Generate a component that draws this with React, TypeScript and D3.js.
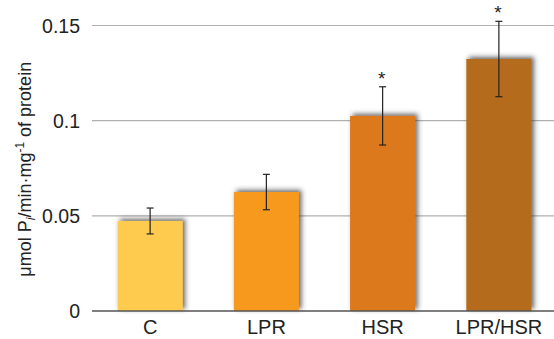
import React from "react";
import * as d3 from "d3";

const categories = ["C", "LPR", "HSR", "LPR/HSR"];
const values = [0.0473, 0.0625, 0.1025, 0.1324];
const errors = [0.0068, 0.0093, 0.0153, 0.0198];
const significant = [false, false, true, true];
const colors = ["#FECB4F", "#F6991E", "#DC791F", "#B46C1A"];
const yTicks = [0, 0.05, 0.1, 0.15];
const yTickLabels = ["0", "0.05", "0.1", "0.15"];

const W = 554;
const H = 339;
const left = 92;
const right = 554;
const y0 = 311;
const yTop = 25.5;

export default function App() {
  const y = d3.scaleLinear().domain([0, 0.15]).range([y0, yTop]);
  const x = d3.scaleBand().domain(categories).range([left, 557]).paddingInner(0.44).paddingOuter(0.22);
  const font = "'Liberation Sans', Arial, sans-serif";

  return (
    <svg width={W} height={H} style={{ position: "absolute", left: 0, top: 0 }} fontFamily={font}>
      <defs>
        <filter id="barShadow" x="-30%" y="-30%" width="160%" height="160%">
          <feDropShadow dx="2.5" dy="-2" stdDeviation="2.6" floodColor="#333" floodOpacity="0.75" />
        </filter>
      </defs>
      <rect width={W} height={H} fill="#fff" />
      {yTicks.slice(1).map((t) => (
        <line key={t} x1={left} x2={right} y1={y(t)} y2={y(t)} stroke="#b0b0b0" strokeWidth={1.2} />
      ))}
      {yTicks.map((t, i) => (
        <text key={t} x={80} y={y(t)} dy="0.36em" textAnchor="end" fontSize={19.5} fill="#222">
          {yTickLabels[i]}
        </text>
      ))}
      <text transform={`translate(31,${(y0 + yTop) / 2 + 1}) rotate(-90)`} textAnchor="middle" fontSize={18} fill="#222">
        μmol P<tspan fontSize={12} fontStyle="italic" dy="4">i</tspan>
        <tspan dy="-4">/min·mg</tspan>
        <tspan fontSize={12} dy="-7">-1</tspan>
        <tspan dy="7"> of protein</tspan>
      </text>
      {categories.map((c, i) => (
        <rect
          key={c}
          x={x(c)}
          y={y(values[i])}
          width={x.bandwidth()}
          height={y0 - y(values[i])}
          fill={colors[i]}
          filter="url(#barShadow)"
        />
      ))}
      <line x1={left} x2={right} y1={y0} y2={y0} stroke="#555" strokeWidth={1.6} />
      {categories.map((c, i) => {
        const cx = (x(c) as number) + x.bandwidth() / 2;
        const hi = y(values[i] + errors[i]);
        const lo = y(values[i] - errors[i]);
        return (
          <g key={c} stroke="#222" strokeWidth={1.2}>
            <line x1={cx} x2={cx} y1={hi} y2={lo} />
            <line x1={cx - 3.5} x2={cx + 3.5} y1={hi} y2={hi} />
            <line x1={cx - 3.5} x2={cx + 3.5} y1={lo} y2={lo} />
            {significant[i] && (
              <text x={cx - 1} y={hi - 2} textAnchor="middle" fontSize={19} fill="#222" stroke="none">
                *
              </text>
            )}
          </g>
        );
      })}
      {categories.map((c) => (
        <text
          key={c}
          x={(x(c) as number) + x.bandwidth() / 2}
          y={334}
          textAnchor="middle"
          fontSize={20}
          fill="#222"
        >
          {c}
        </text>
      ))}
    </svg>
  );
}
